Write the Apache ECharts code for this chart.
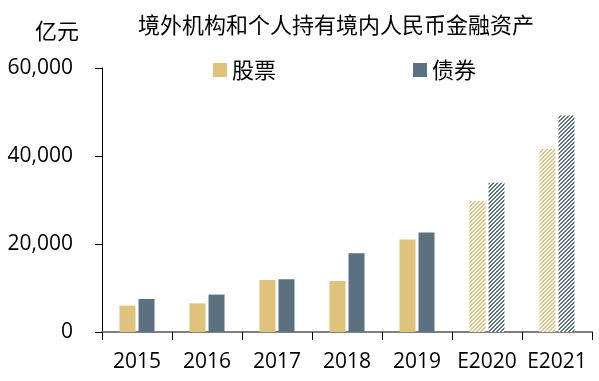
<!DOCTYPE html>
<html><head><meta charset="utf-8">
<script src="https://cdn.jsdelivr.net/npm/echarts@6/dist/echarts.min.js"></script>
<style>html,body{margin:0;padding:0;background:#fff}#c{width:599px;height:381px}</style>
</head><body><div id="c"></div>
<script>
const categories = ['2015','2016','2017','2018','2019','E2020','E2021'];
const stocks = [6000, 6500, 11800, 11600, 21000, 29800, 41600];
const bonds = [7500, 8500, 12000, 17900, 22600, 33900, 49200];
const estimated = [false, false, false, false, false, true, true];
const seriesNames = ['股票', '债券'];
const titleText = '境外机构和个人持有境内人民币金融资产';
const unitText = '亿元';

const FONT = '"Open Sans", "Noto Sans CJK SC", sans-serif';
const CJK = '"Noto Sans CJK SC", sans-serif';
const YELLOW = '#DFC27B';
const BLUE = '#5B717F';

function hatch(color) {
  const c = document.createElement('canvas');
  c.width = 4; c.height = 4;
  const ctx = c.getContext('2d');
  ctx.fillStyle = '#fff';
  ctx.fillRect(0, 0, 4, 4);
  ctx.fillStyle = color;
  for (let y = 0; y < 4; y++) {
    const x = 3 - y;
    ctx.fillRect(x, y, 1, 1);
    ctx.fillRect((x + 1) % 4, y, 1, 1);
  }
  return { image: c, repeat: 'repeat' };
}

function build(values, color) {
  return values.map((v, i) => estimated[i]
    ? { value: v, itemStyle: { color: hatch(color) } }
    : v);
}

const chart = echarts.init(document.getElementById('c'), null, { renderer: 'canvas' });
chart.setOption({
  animation: false,
  backgroundColor: '#fff',
  textStyle: { fontFamily: FONT },
  title: {
    text: titleText,
    left: 133, top: 9,
    textStyle: { fontFamily: CJK, fontSize: 22, fontWeight: 'normal', color: '#000' }
  },
  graphic: [{
    type: 'text', left: 35, top: 20,
    style: { text: unitText, font: '22px ' + CJK, fill: '#000' }
  }],
  legend: {
    data: seriesNames,
    left: 208, top: 54,
    itemWidth: 14, itemHeight: 14, itemGap: 137,
    icon: 'rect',
    textStyle: { fontFamily: CJK, fontSize: 22, color: '#000' }
  },
  grid: { left: 102, right: 7, top: 68, bottom: 49, containLabel: false },
  xAxis: {
    type: 'category',
    data: categories,
    axisLine: { lineStyle: { color: '#7f7f7f', width: 2 } },
    axisTick: { show: true, interval: 0, length: 8, lineStyle: { color: '#000', width: 1 } },
    axisLabel: { interval: 0, hideOverlap: false, fontFamily: FONT, fontSize: 21, color: '#000', margin: 20 }
  },
  yAxis: {
    type: 'value',
    min: 0, max: 60000, interval: 20000,
    splitLine: { show: false },
    axisLine: { show: true, lineStyle: { color: '#000', width: 1 } },
    axisTick: { show: true, length: 7, lineStyle: { color: '#000' } },
    axisLabel: {
      fontFamily: FONT, fontSize: 21, color: '#000', margin: 29,
      formatter: v => v.toLocaleString('en-US')
    }
  },
  series: [
    { name: seriesNames[0], type: 'bar', barWidth: 16, barGap: '19%',
      itemStyle: { color: YELLOW }, data: build(stocks, YELLOW) },
    { name: seriesNames[1], type: 'bar', barWidth: 16, barGap: '19%',
      itemStyle: { color: BLUE }, data: build(bonds, BLUE) }
  ]
});
</script></body></html>
